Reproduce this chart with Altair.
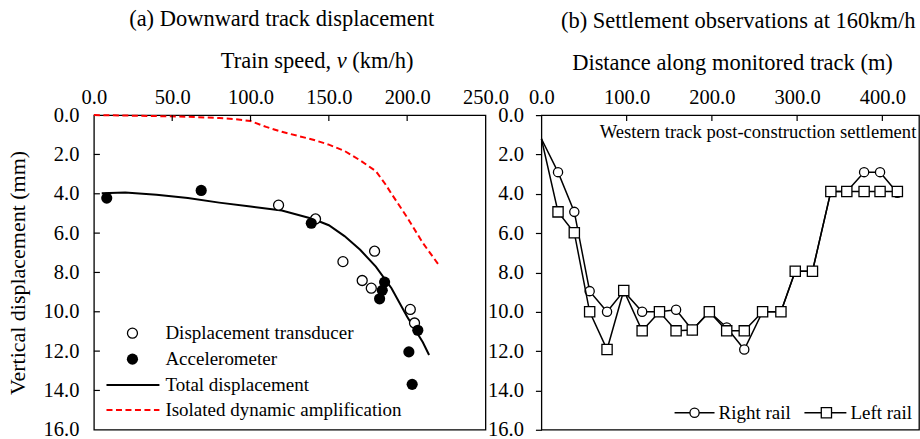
import altair as alt
import pandas as pd

FONT = "Liberation Serif"

# ---------------- Panel (a): downward displacement vs train speed ----------------
transducer_speed = [117.9, 141.5, 159.0, 171.3, 177.1, 179.2, 202.0, 204.7]
transducer_disp = [4.58, 5.28, 7.45, 8.41, 8.80, 6.92, 9.88, 10.57]

accel_speed = [8.2, 68.5, 138.8, 182.4, 184.1, 185.6, 201.1, 203.2, 206.8]
accel_disp = [4.22, 3.83, 5.50, 9.34, 8.91, 8.49, 12.04, 13.69, 10.94]

total_speed = [5, 20, 40, 60, 80, 100, 120, 140, 150, 160, 170, 180, 190, 200, 210, 214]
total_disp = [3.97, 3.93, 4.05, 4.22, 4.45, 4.65, 4.85, 5.28, 5.60, 6.15, 6.85, 7.70, 8.80, 10.25, 11.55, 12.20]

amp_speed = [0, 20, 40, 60, 80, 90, 100, 110, 120, 130, 140, 150, 160, 170, 180, 186, 190, 200, 210, 220]
amp_disp = [0.0, 0.02, 0.05, 0.08, 0.15, 0.20, 0.30, 0.60, 0.85, 1.05, 1.25, 1.50, 1.82, 2.30, 2.85, 3.50, 4.00, 5.20, 6.50, 7.60]

speed_ticks = [0, 50, 100, 150, 200, 250]
disp_ticks = [0, 2, 4, 6, 8, 10, 12, 14, 16]

legend_a = ["Displacement transducer", "Accelerometer", "Total displacement",
            "Isolated dynamic amplification"]

# ---------------- Panel (b): settlement along the monitored track ----------------
distance_m = [0, 19.5, 38.6, 56.6, 77.0, 96.6, 118.2, 138.5, 158.0, 177.0, 197.0,
              217.4, 238.0, 259.5, 281.0, 297.8, 318.0, 339.6, 358.3, 378.6, 397.3, 417.6]
right_rail = [1.2, 2.9, 4.92, 8.95, 10.0, 8.95, 10.0, 10.0, 9.9, 10.93, 10.0,
              10.8, 11.92, 10.0, 10.0, 7.94, 7.94, 3.88, 3.88, 2.9, 2.9, 3.95]
left_rail = [1.2, 4.92, 5.98, 10.0, 11.92, 8.92, 10.97, 10.0, 10.97, 10.93, 10.0,
             10.97, 10.97, 10.0, 10.0, 7.94, 7.94, 3.88, 3.88, 3.88, 3.88, 3.88]

distance_ticks = [0, 100, 200, 300, 400]
legend_b = ["Right rail", "Left rail"]

W1, W2, H = 392, 378, 315
LABEL_SIZE = 20.5


def one_row(**kw):
    return pd.DataFrame({k: [v] for k, v in kw.items()})


def label(text, x, y, size, align="left", style="normal"):
    return alt.Chart(one_row(t=text)).mark_text(
        font=FONT, fontSize=size, fontStyle=style, align=align,
        baseline="middle", color="black"
    ).encode(x=alt.value(x), y=alt.value(y), text="t:N")


# ---------------- Panel (a) ----------------
xa = alt.X("speed:Q",
           scale=alt.Scale(domain=[0, 250], nice=False, zero=False),
           axis=alt.Axis(orient="top", values=speed_ticks, format=".1f", ticks=False,
                         domain=False, grid=False, labelFlush=False, labelPadding=8,
                         labelFontSize=LABEL_SIZE, title=None))
ya = alt.Y("disp:Q",
           scale=alt.Scale(domain=[0, 16], reverse=True, nice=False),
           axis=alt.Axis(values=disp_ticks, format=".1f", ticks=False, domain=False,
                         grid=False, labelPadding=15, labelFontSize=LABEL_SIZE,
                         title="Vertical displacement (mm)", titleFontSize=22,
                         titleFontWeight="normal", titlePadding=14))

amp_df = pd.DataFrame({"speed": amp_speed, "disp": amp_disp})
total_df = pd.DataFrame({"speed": total_speed, "disp": total_disp})
trans_df = pd.DataFrame({"speed": transducer_speed, "disp": transducer_disp})
accel_df = pd.DataFrame({"speed": accel_speed, "disp": accel_disp})

amp_line = alt.Chart(amp_df).mark_line(
    color="#ff0000", strokeWidth=2, strokeDash=[6, 3.5]
).encode(x=xa, y=ya)
total_line = alt.Chart(total_df).mark_line(color="black", strokeWidth=2).encode(x=xa, y=ya)
trans_pts = alt.Chart(trans_df).mark_point(
    shape="circle", filled=False, color="black", fill="white", strokeWidth=1.3, size=100, opacity=1
).encode(x=xa, y=ya)
accel_pts = alt.Chart(accel_df).mark_point(
    shape="circle", filled=True, color="black", size=125, opacity=1
).encode(x=xa, y=ya)

# inward tick marks
ytick_a = alt.Chart(pd.DataFrame({"disp": disp_ticks[1:-1]})).mark_rule(
    color="black", strokeWidth=1.2).encode(y=ya, x=alt.value(0), x2=alt.value(6))
xtick_a = alt.Chart(pd.DataFrame({"speed": speed_ticks[1:-1]})).mark_rule(
    color="black", strokeWidth=1.2).encode(x=xa, y=alt.value(0), y2=alt.value(6))

# x-axis title with italic symbol
xtitle_a = [
    label("Train speed,", 237.4, -53.7, 22.5, align="right"),
    label("v", 243, -53.7, 22.5, style="italic"),
    label("(km/h)", 258.6, -53.7, 22.5),
]

# legend
LEG_SIZE = 19
leg_a = [
    alt.Chart(one_row(t=0)).mark_point(shape="circle", filled=False, color="black",
                                       fill="white", strokeWidth=1.3, size=100, opacity=1)
    .encode(x=alt.value(38.6), y=alt.value(218.3)),
    alt.Chart(one_row(t=0)).mark_point(shape="circle", filled=True, color="black",
                                       size=125, opacity=1)
    .encode(x=alt.value(38.6), y=alt.value(244.3)),
    alt.Chart(one_row(t=0)).mark_rule(color="black", strokeWidth=2)
    .encode(x=alt.value(12.6), x2=alt.value(65.6), y=alt.value(270.3)),
    alt.Chart(one_row(t=0)).mark_rule(color="#ff0000", strokeWidth=2, strokeDash=[6, 3.5])
    .encode(x=alt.value(12.6), x2=alt.value(65.6), y=alt.value(295.3)),
]
for i, name in enumerate(legend_a):
    leg_a.append(label(name, 71.6, 218.3 + 25.7 * i, LEG_SIZE))

panel_a = alt.layer(
    amp_line, total_line, trans_pts, accel_pts, ytick_a, xtick_a, *xtitle_a, *leg_a
).properties(
    width=W1, height=H,
    title=alt.TitleParams("(a) Downward track displacement", font=FONT, fontSize=22.5,
                          fontWeight="normal", color="black", anchor="middle", dx=-8,
                          offset=20),
)

# ---------------- Panel (b) ----------------
xb = alt.X("dist:Q",
           scale=alt.Scale(domain=[0, 443], nice=False, zero=False),
           axis=alt.Axis(orient="top", values=distance_ticks, format=".1f", ticks=False,
                         domain=False, grid=False, labelFlush=False, labelPadding=8,
                         labelFontSize=LABEL_SIZE, title=None))
yb = alt.Y("settle:Q",
           scale=alt.Scale(domain=[0, 16], reverse=True, nice=False),
           axis=alt.Axis(values=disp_ticks, format=".1f", ticks=True, tickSize=6,
                         tickColor="black", tickWidth=1.2, domain=False, grid=False,
                         labelPadding=12, labelFontSize=LABEL_SIZE, title=None))

rail_r = pd.DataFrame({"dist": distance_m, "settle": right_rail})
rail_l = pd.DataFrame({"dist": distance_m, "settle": left_rail})

r_line = alt.Chart(rail_r).mark_line(color="black", strokeWidth=1.5).encode(x=xb, y=yb)
r_pts = alt.Chart(rail_r).transform_filter(alt.datum.dist > 0).mark_point(
    shape="circle", filled=True, fill="white", stroke="black", strokeWidth=1.3,
    size=85, opacity=1).encode(x=xb, y=yb)
l_line = alt.Chart(rail_l).mark_line(color="black", strokeWidth=1.5).encode(x=xb, y=yb)
l_pts = alt.Chart(rail_l).transform_filter(alt.datum.dist > 0).mark_point(
    shape="square", filled=True, fill="white", stroke="black", strokeWidth=1.3,
    size=105, opacity=1).encode(x=xb, y=yb)

xtick_b = alt.Chart(pd.DataFrame({"dist": distance_ticks[1:]})).mark_rule(
    color="black", strokeWidth=1.2).encode(x=xb, y=alt.value(0), y2=alt.value(6))

xtitle_b = label("Distance along monitored track (m)", 191.3, -52, 22.5, align="center")
note_b = label("Western track post-construction settlement", 375.3, 17, 18.6, align="right")

leg_b = [
    alt.Chart(one_row(t=0)).mark_rule(color="black", strokeWidth=1.5)
    .encode(x=alt.value(133.3), x2=alt.value(173.3), y=alt.value(298)),
    alt.Chart(one_row(t=0)).mark_point(shape="circle", filled=True, fill="white",
                                       stroke="black", strokeWidth=1.3, size=85, opacity=1)
    .encode(x=alt.value(153.3), y=alt.value(298)),
    label(legend_b[0], 177.3, 298, LEG_SIZE),
    alt.Chart(one_row(t=0)).mark_rule(color="black", strokeWidth=1.5)
    .encode(x=alt.value(263.3), x2=alt.value(305.3), y=alt.value(298)),
    alt.Chart(one_row(t=0)).mark_point(shape="square", filled=True, fill="white",
                                       stroke="black", strokeWidth=1.3, size=105, opacity=1)
    .encode(x=alt.value(285.3), y=alt.value(298)),
    label(legend_b[1], 309.3, 298, LEG_SIZE),
]

panel_b = alt.layer(
    r_line, r_pts, l_line, l_pts, xtick_b, xtitle_b, note_b, *leg_b
).properties(
    width=W2, height=H,
    title=alt.TitleParams("(b) Settlement observations at 160km/h", font=FONT,
                          fontSize=22.5, fontWeight="normal", color="black",
                          anchor="middle", dx=8, offset=20),
)

chart = alt.hconcat(panel_a, panel_b, spacing=56, bounds="flush").properties(
    padding={"left": 5, "top": 7, "right": 0, "bottom": 3},
    background="white",
).configure_view(
    stroke="black", strokeWidth=1.3
).configure_axis(
    labelFont=FONT, titleFont=FONT, labelColor="black", titleColor="black"
)

chart.save("out.html", embed_options={"renderer": "svg", "actions": False})
